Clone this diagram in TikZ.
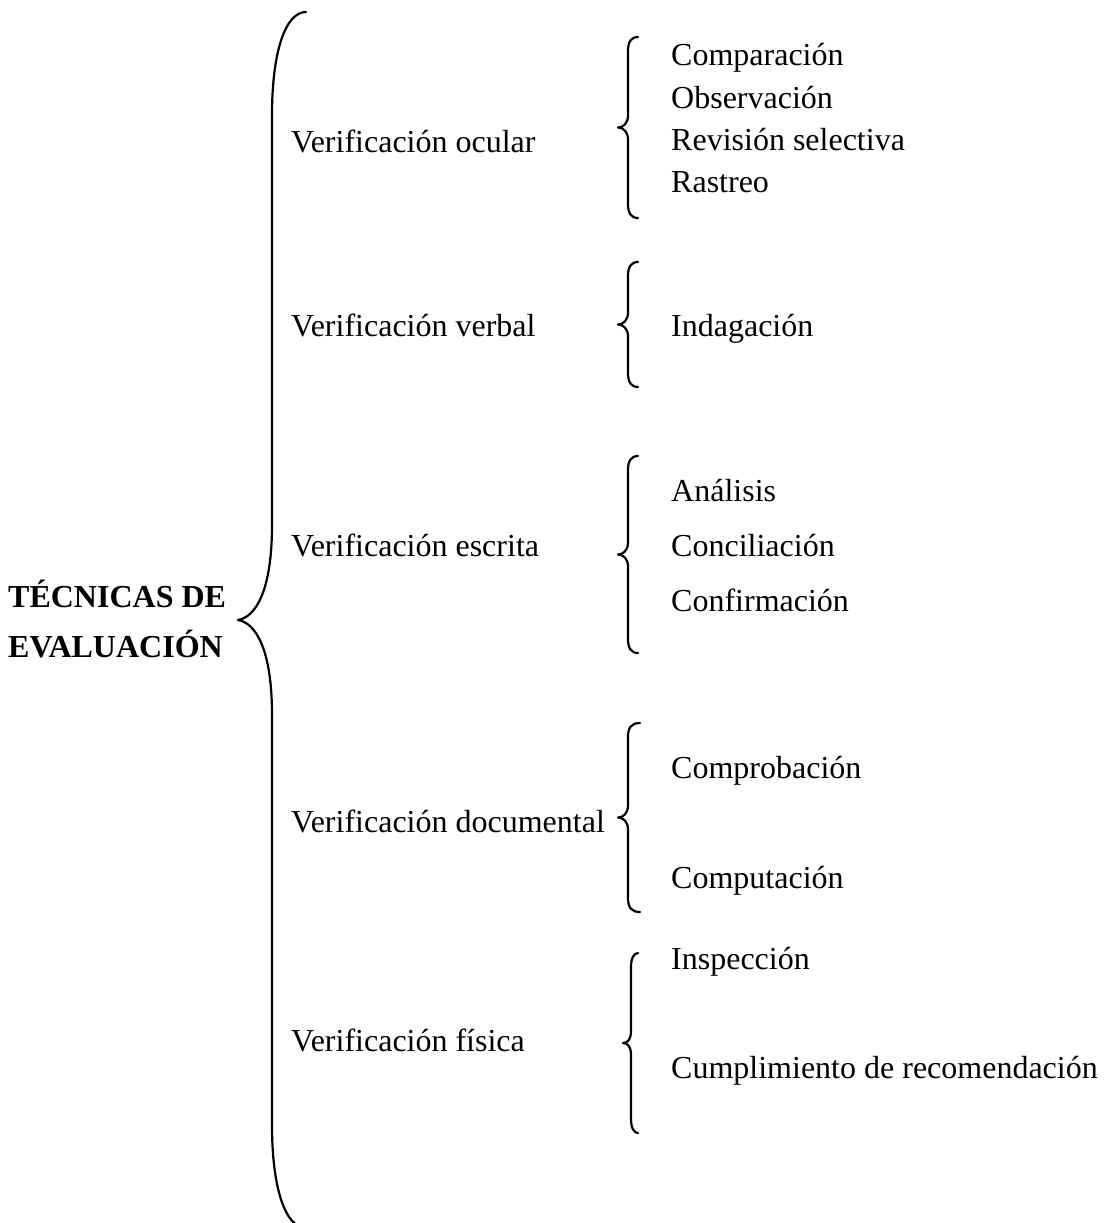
\documentclass[tikz,border=0pt]{standalone}
\usepackage{fontspec}
\setmainfont{Liberation Serif}
\begin{document}
\begin{tikzpicture}[x=1pt,y=-1pt,
  lbl/.style={anchor=base west,inner sep=0pt,font=\fontsize{32}{38}\selectfont},
  head/.style={anchor=base west,inner sep=0pt,font=\fontsize{32}{38}\selectfont\bfseries},
  bracestroke/.style={line width=2.2pt,line cap=round,line join=round}]
\useasboundingbox (0,0) rectangle (1109,1223);

% small brace: #1 end x, #2 stem x, #3 tip x, #4 top y, #5 bottom y
\newcommand\wordbrace[5]{%
  \pgfmathsetmacro\bm{(#4+#5)/2}%
  \draw[bracestroke] (#1,#4) .. controls (#2+3,#4) and (#2,#4+5) .. (#2,#4+14)
    -- (#2,\bm-12) .. controls (#2,\bm-4) and (#3+5,\bm) .. (#3,\bm)
    .. controls (#3+5,\bm) and (#2,\bm+4) .. (#2,\bm+12)
    -- (#2,#5-14) .. controls (#2,#5-5) and (#2+3,#5) .. (#1,#5);}

% main heading and its large brace
\node[head] (t1) at (8,607) {TÉCNICAS DE};
\node[head] (t2) at (8,657) {EVALUACIÓN};
\draw[bracestroke] (306,12) .. controls (286,12) and (272,50) .. (272,115)
  -- (272,525) .. controls (272,590) and (256,617) .. (238,620)
  .. controls (256,623) and (272,650) .. (272,715)
  -- (272,1125) .. controls (272,1190) and (286,1228) .. (306,1228);

% group 1
\node[lbl] (g1) at (291,152) {Verificación ocular};
\wordbrace{638}{628}{618}{37}{218}
\node[lbl] (a1) at (671,66) {Comparación};
\node[lbl] (a2) at (671,108) {Observación};
\node[lbl] (a3) at (671,150) {Revisión selectiva};
\node[lbl] (a4) at (671,192) {Rastreo};

% group 2
\node[lbl] (g2) at (291,336) {Verificación verbal};
\wordbrace{638}{628}{618}{262}{387}
\node[lbl] (b1) at (671,336) {Indagación};

% group 3
\node[lbl] (g3) at (291,556) {Verificación escrita};
\wordbrace{638}{628}{618}{456}{653}
\node[lbl] (c1) at (671,501) {Análisis};
\node[lbl] (c2) at (671,556) {Conciliación};
\node[lbl] (c3) at (671,611) {Confirmación};

% group 4
\node[lbl] (g4) at (291,832) {Verificación documental};
\wordbrace{640}{628}{618}{723}{912}
\node[lbl] (d1) at (671,778) {Comprobación};
\node[lbl] (d2) at (671,888) {Computación};

% group 5
\node[lbl] (g5) at (291,1051) {Verificación física};
\wordbrace{638}{631}{623}{953}{1133}
\node[lbl] (e1) at (671,969) {Inspección};
\node[lbl] (e2) at (671,1078) {Cumplimiento de recomendación};
\end{tikzpicture}
\end{document}
